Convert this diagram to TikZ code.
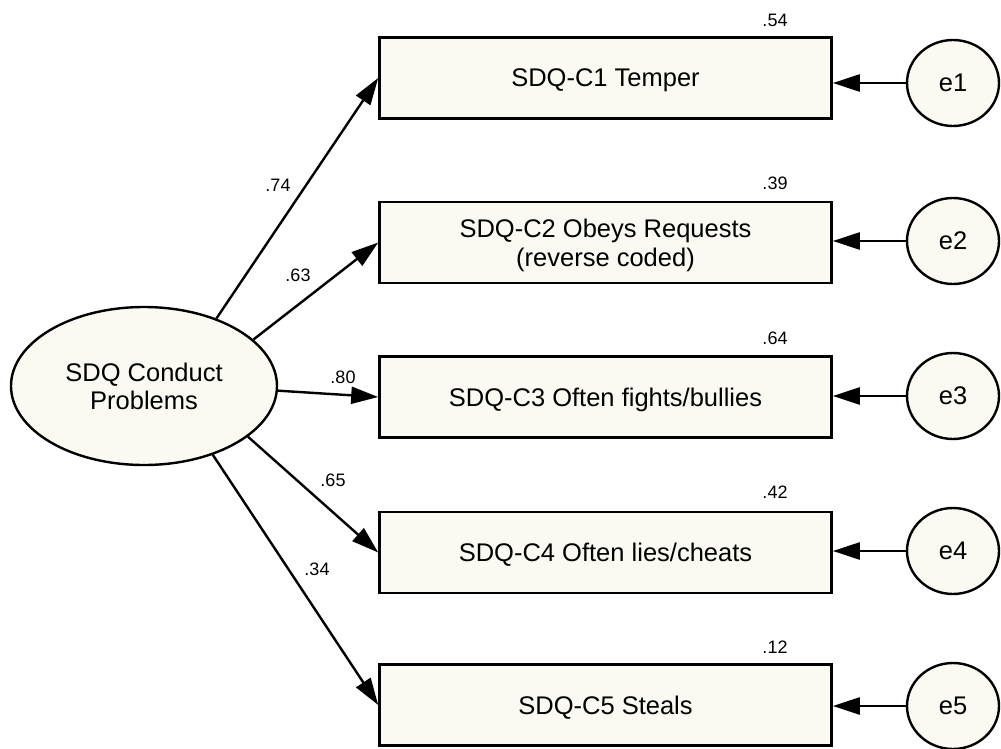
\documentclass[tikz,border=0pt]{standalone}
\usepackage{fontspec}
\setmainfont{Liberation Sans}
\usetikzlibrary{arrows.meta,shapes.geometric}
\definecolor{boxfill}{HTML}{FAFAF3}
\tikzset{
  obs/.style={draw=black, line width=2.6pt, fill=boxfill, rectangle,
    minimum width=452pt, minimum height=81pt, inner sep=0pt, align=center,
    text depth=0pt, font=\fontsize{25.5}{29}\selectfont},
  latent/.style={draw=black, line width=2.4pt, fill=boxfill, ellipse,
    minimum width=266pt, minimum height=158pt, inner sep=0pt, align=center,
    text depth=0pt, font=\fontsize{25.5}{28}\selectfont},
  err/.style={draw=black, line width=2.4pt, fill=boxfill, ellipse,
    minimum width=92pt, minimum height=86pt, inner sep=0pt,
    font=\fontsize{25.5}{30}\selectfont},
  path/.style={draw=black, line width=2.4pt,
    -{Triangle[length=27pt, width=17pt]}},
  coef/.style={font=\fontsize{18}{22}\selectfont, inner sep=0pt}
}
\begin{document}
\begin{tikzpicture}[x=1pt, y=-1pt]
\useasboundingbox (0,0) rectangle (1001,749);

% latent factor
\node[latent] (lat) at (144,386) {SDQ Conduct\\Problems};

% observed items
\node[obs] (b1) at (605.5,78)    {SDQ-C1 Temper};
\node[obs] (b2) at (605.5,242.5) {SDQ-C2 Obeys Requests\\(reverse coded)};
\node[obs] (b3) at (605.5,397)   {SDQ-C3 Often fights/bullies};
\node[obs] (b4) at (605.5,552.5) {SDQ-C4 Often lies/cheats};
\node[obs] (b5) at (605.5,705)   {SDQ-C5 Steals};

% error terms
\node[err] (e1) at (953,83)  {e1};
\node[err] (e2) at (953,241) {e2};
\node[err] (e3) at (953,396) {e3};
\node[err] (e4) at (953,551) {e4};
\node[err] (e5) at (953,706) {e5};

% loadings
\draw[path] (lat.43)    -- (b1.west);
\draw[path] (lat.23.8)  -- (b2.west);
\draw[path] (lat.-2.5)  -- (b3.west);
\draw[path] (lat.-26.4) -- (b4.west);
\draw[path] (lat.-45)   -- (b5.west);

% residual paths
\foreach \i in {1,...,5} \draw[path] (e\i.west) -- (e\i.west -| b\i.east);

% standardized loadings
\node[coef] (l1) at (278,185) {.74};
\node[coef] (l2) at (298,275) {.63};
\node[coef] (l3) at (343,377) {.80};
\node[coef] (l4) at (333,480) {.65};
\node[coef] (l5) at (317,569) {.34};

% squared multiple correlations
\node[coef] (r1) at (775,20)  {.54};
\node[coef] (r2) at (775,183) {.39};
\node[coef] (r3) at (775,338) {.64};
\node[coef] (r4) at (775,492) {.42};
\node[coef] (r5) at (775,647) {.12};
\end{tikzpicture}
\end{document}
